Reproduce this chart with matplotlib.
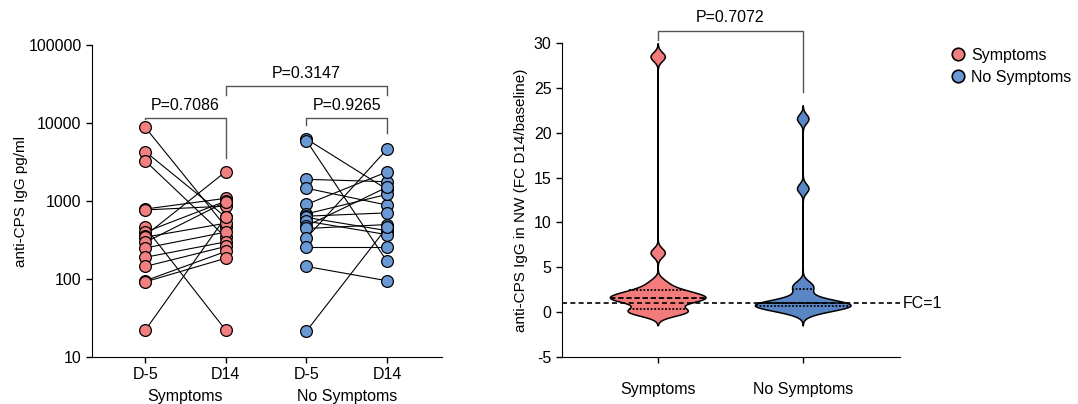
import numpy as np
import matplotlib
matplotlib.use("Agg")
import matplotlib.pyplot as plt
from matplotlib.lines import Line2D

plt.rcParams['font.family'] = ['Liberation Sans', 'DejaVu Sans']
plt.rcParams['axes.unicode_minus'] = False

# Paired anti-CPS IgG concentrations (pg/ml), baseline (D-5) and day 14
sym_d5 = [8830, 4320, 3280, 790, 770, 462, 400, 360, 345, 295, 250, 190, 145, 95, 92, 22]
sym_d14 = [466, 622, 343, 1085, 861, 22, 1000, 2390, 520, 980, 400, 300, 262, 226, 185, 627]
nosym_d5 = [6250, 5940, 1900, 1460, 906, 685, 640, 617, 552, 480, 445, 336, 255, 145, 21.5]
nosym_d14 = [1410, 168, 1770, 887, 2370, 1220, 706, 417, 371, 1510, 500, 4640, 255, 95, 464]

group_names = ["Symptoms", "No Symptoms"]
time_labels = ["D-5", "D14", "D-5", "D14"]
p_within = ["P=0.7086", "P=0.9265"]
p_between_d14 = "P=0.3147"
p_fc = "P=0.7072"

red = "#F28080"
blue = "#6A9AD6"
red_v = "#F47B7B"
blue_v = "#5A86C6"
bracket_col = "#555555"

fig = plt.figure(figsize=(10.78, 4.04), dpi=100)
ax1 = fig.add_axes([0.0853, 0.1163, 0.3247, 0.772])
ax2 = fig.add_axes([0.5213, 0.1163, 0.3135, 0.777])

# ---- Left panel: paired before/after plot on log scale ----
pairs = [(sym_d5, sym_d14, 0, red), (nosym_d5, nosym_d14, 2, blue)]
for d5, d14, x0, col in pairs:
    for a, b in zip(d5, d14):
        ax1.plot([x0, x0 + 1], [a, b], color="black", lw=0.8, zorder=2)
    ax1.scatter([x0] * len(d5), d5, s=72, facecolor=col, edgecolor="black", lw=0.9, zorder=3)
    ax1.scatter([x0 + 1] * len(d14), d14, s=72, facecolor=col, edgecolor="black", lw=0.9, zorder=3)

ax1.set_yscale("log")
ax1.set_ylim(10, 100000)
ax1.set_xlim(-0.66, 3.68)
ax1.set_yticks([10, 100, 1000, 10000, 100000])
ax1.set_yticklabels(["10", "100", "1000", "10000", "100000"])
ax1.yaxis.set_minor_locator(matplotlib.ticker.NullLocator())
ax1.set_xticks([0, 1, 2, 3])
ax1.set_xticklabels(time_labels)
for s in ["top", "right"]:
    ax1.spines[s].set_visible(False)
ax1.tick_params(axis="both", labelsize=11.5, length=4, width=1)
ax1.tick_params(axis="x", pad=3)
ax1.set_ylabel("anti-CPS IgG pg/ml", fontsize=11, labelpad=0)
for i, name in enumerate(group_names):
    ax1.text(2 * i + 0.5, -0.125, name, transform=ax1.get_xaxis_transform(),
             ha="center", va="center", fontsize=11.5)

def bracket(ax, x1, x2, ytop, yl, yr, text, ytext, clip=False):
    ax.plot([x1, x1, x2, x2], [yl, ytop, ytop, yr], color=bracket_col, lw=1, clip_on=clip)
    ax.text((x1 + x2) / 2, ytext, text, ha="center", va="center", fontsize=11.5, clip_on=clip)

bracket(ax1, 0, 1, 11750, 11200, 3590, p_within[0], 16800)
bracket(ax1, 2, 3, 11750, 9400, 7550, p_within[1], 16800)
bracket(ax1, 1, 3, 29500, 22600, 22600, p_between_d14, 43500)

# ---- Right panel: violin plot of fold change D14/baseline ----
fc_groups = [np.array(sym_d14) / np.array(sym_d5), np.array(nosym_d14) / np.array(nosym_d5)]
colors_v = [red_v, blue_v]
bw = 0.5
half_w = 0.33
for pos, (vals, col) in enumerate(zip(fc_groups, colors_v)):
    ys = np.linspace(vals.min() - 3 * bw, vals.max() + 3 * bw, 1500)
    dens = np.exp(-0.5 * ((ys[:, None] - vals[None, :]) / bw) ** 2).sum(axis=1)
    w = dens / dens.max() * half_w
    ax2.fill_betweenx(ys, pos - w, pos + w, facecolor=col, edgecolor="black", lw=1.1, zorder=2)
    q1, med, q3 = np.percentile(vals, [25, 50, 75], method="weibull")
    for q, ls in [(q1, (0, (1, 1))), (med, (0, (3, 1.5))), (q3, (0, (1, 1)))]:
        wq = np.interp(q, ys, w)
        ax2.plot([pos - wq, pos + wq], [q, q], color="black", lw=1.3, ls=ls, zorder=3)

ax2.axhline(1, color="black", lw=1.2, ls=(0, (3, 2)), zorder=4)
ax2.text(1.69, 1, "FC=1", ha="left", va="center", fontsize=11.5, clip_on=False)
ax2.set_xlim(-0.66, 1.67)
ax2.set_ylim(-5, 30)
ax2.set_yticks(np.arange(-5, 31, 5))
ax2.set_xticks([0, 1])
ax2.set_xticklabels(group_names)
for s in ["top", "right"]:
    ax2.spines[s].set_visible(False)
ax2.tick_params(axis="both", labelsize=11.5, length=4, width=1)
ax2.tick_params(axis="x", pad=14)
ax2.set_ylabel("anti-CPS IgG in NW (FC D14/baseline)", fontsize=11, labelpad=4)
bracket(ax2, 0, 1, 31.3, 30.3, 24.5, p_fc, 32.9)

handles = [Line2D([], [], ls="none", marker="o", markersize=9, markerfacecolor=c,
                  markeredgecolor="black", markeredgewidth=1.2) for c in (red, blue)]
fig.legend(handles, group_names, loc="upper left", bbox_to_anchor=(0.868, 0.918),
           frameon=False, fontsize=11.5, handletextpad=0.3, labelspacing=0.45,
           handlelength=1.0)

fig.savefig("out.png", dpi=100)
